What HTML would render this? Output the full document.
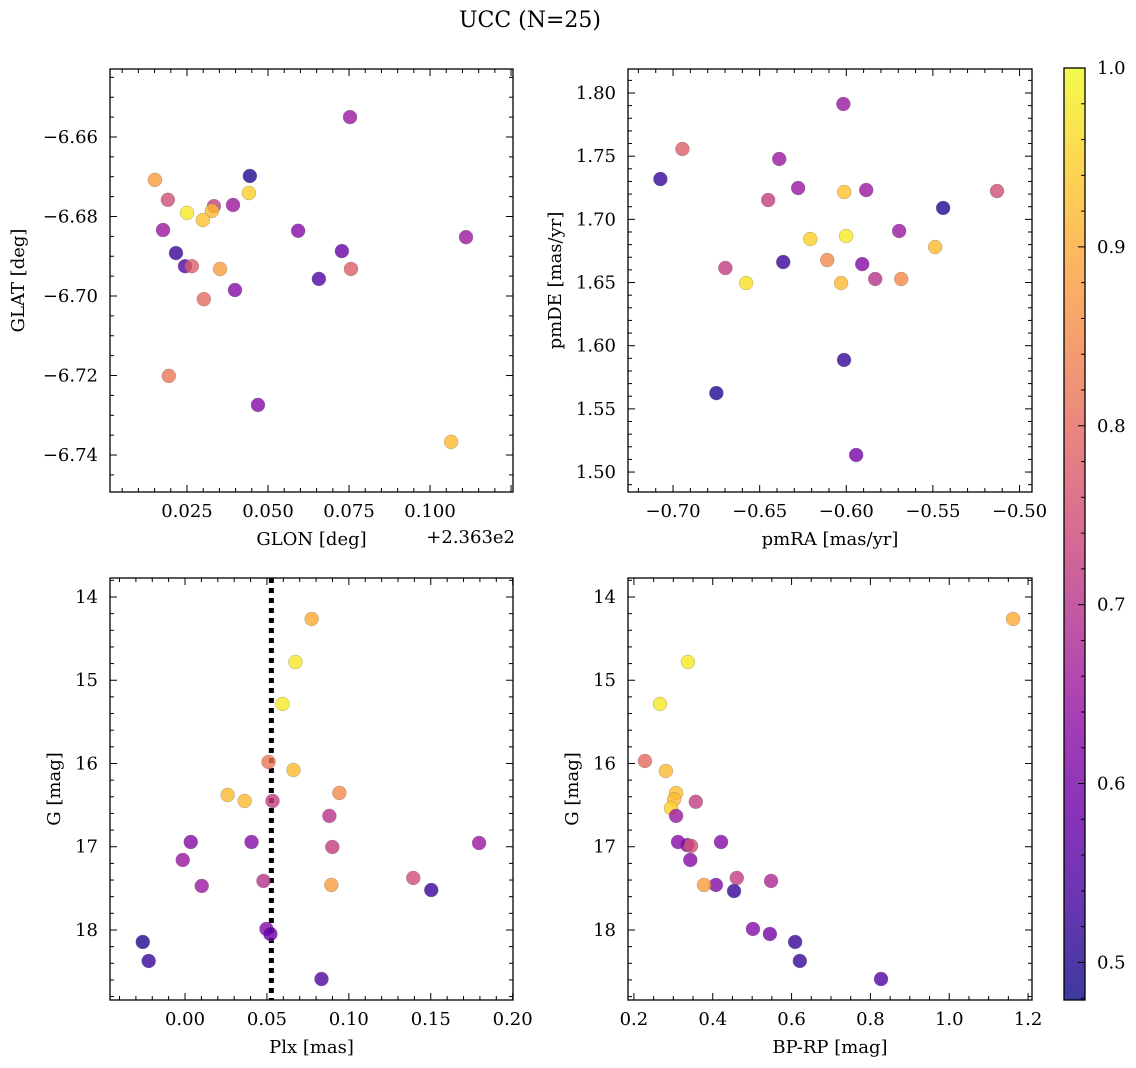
<!DOCTYPE html>
<html><head><meta charset="utf-8"><style>
html,body{margin:0;padding:0;background:#fff}
svg{display:block;font-family:"DejaVu Serif","Liberation Serif",serif}
</style></head><body>
<svg id="fig" width="1136" height="1068" viewBox="0 0 1136 1068" xmlns="http://www.w3.org/2000/svg">
<defs><linearGradient id="plasmaGrad" x1="0" y1="1" x2="0" y2="0"></linearGradient></defs>
<text x="530" y="27" font-size="22" text-anchor="middle">UCC (N=25)</text>
</svg>
<script>
// ---- data ----
const p1Glon = [0.0753,0.0444,0.0151,0.0441,0.0191,0.0333,0.0392,0.0327,0.025,0.0299,0.0176,0.0593,0.1111,0.0216,0.0728,0.0244,0.0265,0.0352,0.0756,0.0657,0.0398,0.0302,0.0194,0.0469,0.1065];
const p1Glat = [-6.655,-6.6698,-6.6708,-6.6741,-6.6758,-6.6774,-6.6771,-6.6786,-6.6791,-6.6809,-6.6834,-6.6836,-6.6852,-6.6892,-6.6887,-6.6925,-6.6925,-6.6932,-6.6932,-6.6957,-6.6985,-6.7008,-6.7201,-6.7274,-6.7367];
const p1Prob = [0.65,0.5,0.88,0.95,0.75,0.72,0.65,0.92,0.98,0.93,0.65,0.62,0.65,0.52,0.58,0.55,0.78,0.88,0.78,0.55,0.62,0.8,0.82,0.62,0.92];

const p2Pmra = [-0.6017,-0.6946,-0.7073,-0.6387,-0.6278,-0.6451,-0.6012,-0.5885,-0.513,-0.5441,-0.5695,-0.6208,-0.6001,-0.5487,-0.611,-0.5908,-0.6364,-0.6698,-0.5833,-0.5683,-0.603,-0.6578,-0.6013,-0.675,-0.5943];
const p2Pmde = [1.7913,1.7557,1.7319,1.7478,1.7248,1.7153,1.7216,1.7232,1.7224,1.709,1.6908,1.6844,1.6868,1.6781,1.6678,1.6646,1.6662,1.6615,1.6528,1.6528,1.6496,1.6496,1.5887,1.5625,1.5135];
const p2Prob = [0.65,0.78,0.52,0.65,0.65,0.72,0.93,0.65,0.75,0.5,0.65,0.95,0.98,0.92,0.85,0.62,0.52,0.72,0.7,0.85,0.92,0.97,0.52,0.5,0.6];

const p3Plx = [0.0773,0.0674,0.0595,0.051,0.0662,0.026,0.0364,0.0534,0.0942,0.0881,0.0035,0.0406,0.1795,0.0899,-0.0014,0.1393,0.0102,0.0479,0.0893,0.1503,0.0497,0.0521,-0.0258,-0.0222,0.0833];
const p3G = [14.264,14.781,15.285,15.982,16.078,16.378,16.45,16.45,16.354,16.63,16.943,16.943,16.955,17.003,17.159,17.375,17.471,17.411,17.459,17.52,17.988,18.048,18.144,18.372,18.589];
const p3Prob = [0.9,0.98,0.98,0.82,0.92,0.92,0.92,0.72,0.85,0.7,0.62,0.62,0.65,0.72,0.65,0.75,0.65,0.7,0.88,0.52,0.62,0.58,0.5,0.52,0.55];
const plxLine = [0.0527];

const p4Bprp = [1.162,0.337,0.266,0.228,0.281,0.307,0.302,0.294,0.357,0.307,0.421,0.312,0.335,0.345,0.343,0.461,0.548,0.408,0.378,0.454,0.502,0.545,0.609,0.621,0.827];
const p4G = [14.264,14.781,15.285,15.97,16.09,16.354,16.43,16.535,16.46,16.63,16.943,16.943,16.98,16.99,17.159,17.375,17.411,17.459,17.459,17.532,17.988,18.048,18.144,18.372,18.589];
const p4Prob = [0.9,0.98,0.98,0.8,0.92,0.93,0.92,0.95,0.72,0.65,0.62,0.62,0.62,0.75,0.62,0.72,0.68,0.62,0.88,0.52,0.62,0.6,0.52,0.52,0.55];

const cbTicks = [0.5,0.6,0.7,0.8,0.9,1.0];
const cbMin = 0.479, cbMax = 1.0;

// ---- helpers ----
const NS = "http://www.w3.org/2000/svg";
const svg = document.getElementById('fig');
function mk(tag, attrs, parent){ const e=document.createElementNS(NS,tag); for(const k in attrs) e.setAttribute(k,attrs[k]); (parent||svg).appendChild(e); return e; }
const stops=[[0,'#0d0887'],[0.1,'#41049d'],[0.2,'#6a00a8'],[0.3,'#8f0da4'],[0.4,'#b12a90'],[0.5,'#cc4778'],[0.6,'#e16462'],[0.7,'#f2844b'],[0.8,'#fca636'],[0.9,'#fcce25'],[1,'#f0f921']];
function hx(c){return [1,3,5].map(i=>parseInt(c.substr(i,2),16));}
function plasma(t){ t=Math.max(0,Math.min(1,t)); for(let i=0;i<stops.length-1;i++){ if(t<=stops[i+1][0]){ const f=(t-stops[i][0])/(stops[i+1][0]-stops[i][0]); const a=hx(stops[i][1]),b=hx(stops[i+1][1]); return 'rgb('+a.map((v,j)=>Math.round(v+(b[j]-v)*f)).join(',')+')'; } } return stops[10][1]; }
function cmap(v){ return plasma((v-cbMin)/(cbMax-cbMin)); }
function fmtMinus(s){ return s.replace('-','\u2212'); }
const FS = 18;

function panel(o){
  const g = mk('g',{});
  
  
  const sx = v => o.x0 + (v-o.xd[0])/(o.xd[1]-o.xd[0])*(o.x1-o.x0);
  const sy = v => o.y1 - (v-o.yd[0])/(o.yd[1]-o.yd[0])*(o.y1-o.y0);
  if(o.vline){ const l=mk('line',{x1:sx(o.vline[0]),x2:sx(o.vline[0]),y1:o.y0,y2:o.y1,stroke:'#000','stroke-width':5,'stroke-dasharray':'5 5'},g);   }
  for(let i=0;i<o.xs.length;i++){
    const c=mk('circle',{cx:sx(o.xs[i]),cy:sy(o.ys[i]),r:7,fill:cmap(o.cs[i]),'fill-opacity':0.8,stroke:'#777','stroke-width':0.5,'stroke-opacity':0.6},g);
    
    
  }
  const fr=mk('rect',{x:o.x0,y:o.y0,width:o.x1-o.x0,height:o.y1-o.y0,fill:'none',stroke:'#000','stroke-width':1.3},g);
   
  const eps=1e-9;
  for(let v=Math.ceil(o.xd[0]/o.xmin)*o.xmin; v<=o.xd[1]+eps; v+=o.xmin){
    const x=sx(v); const major=Math.abs(v/o.xmaj-Math.round(v/o.xmaj))<1e-6; const L=major?7:4;
    mk('line',{x1:x,x2:x,y1:o.y1,y2:o.y1-L,stroke:'#000','stroke-width':1},g);
    mk('line',{x1:x,x2:x,y1:o.y0,y2:o.y0+L,stroke:'#000','stroke-width':1},g);
  }
  o.xticks.forEach((v,i)=>{ const t=mk('text',{x:sx(v),y:o.y1+25,'font-size':FS,'text-anchor':'middle'},g); t.textContent=fmtMinus(o.xlabs[i]);   });
  for(let v=Math.ceil(o.yd[0]/o.ymin)*o.ymin; v<=o.yd[1]+eps; v+=o.ymin){
    const y=sy(v); const major=Math.abs(v/o.ymaj-Math.round(v/o.ymaj))<1e-6; const L=major?7:4;
    mk('line',{x1:o.x0,x2:o.x0+L,y1:y,y2:y,stroke:'#000','stroke-width':1},g);
    mk('line',{x1:o.x1,x2:o.x1-L,y1:y,y2:y,stroke:'#000','stroke-width':1},g);
  }
  o.yticks.forEach((v,i)=>{ const t=mk('text',{x:o.x0-12,y:sy(v)+6,'font-size':FS,'text-anchor':'end'},g); t.textContent=fmtMinus(o.ylabs[i]);   });
  const xl=mk('text',{x:(o.x0+o.x1)/2,y:o.y1+53,'font-size':FS,'text-anchor':'middle'},g); xl.textContent=o.xlabel;  
  const yx=o.ylx, yy=(o.y0+o.y1)/2;
  const yl=mk('text',{x:yx,y:yy,'font-size':FS,'text-anchor':'middle',transform:'rotate(-90 '+yx+' '+yy+')'},g); yl.textContent=o.ylabel;  
  if(o.offset){ const t=mk('text',{x:o.x1+2,y:o.y1+51,'font-size':FS,'text-anchor':'end'},g); t.textContent=o.offset;   }
}

panel({name:'glon-glat-panel',x0:110,x1:513,y0:69,y1:492,xd:[0.00124,0.1256],yd:[-6.7493,-6.6429],
  xs:p1Glon,ys:p1Glat,cs:p1Prob,xmaj:0.025,xmin:0.005,ymaj:0.02,ymin:0.005,
  xticks:[0.025,0.05,0.075,0.1],xlabs:['0.025','0.050','0.075','0.100'],
  yticks:[-6.74,-6.72,-6.70,-6.68,-6.66],ylabs:['-6.74','-6.72','-6.70','-6.68','-6.66'],
  xlabel:'GLON [deg]',ylabel:'GLAT [deg]',ylx:24,offset:'+2.363e2'});
panel({name:'pmra-pmde-panel',x0:628,x1:1032,y0:69,y1:492,xd:[-0.726,-0.4928],yd:[1.4842,1.819],
  xs:p2Pmra,ys:p2Pmde,cs:p2Prob,xmaj:0.05,xmin:0.01,ymaj:0.05,ymin:0.01,
  xticks:[-0.70,-0.65,-0.60,-0.55,-0.50],xlabs:['-0.70','-0.65','-0.60','-0.55','-0.50'],
  yticks:[1.50,1.55,1.60,1.65,1.70,1.75,1.80],ylabs:['1.50','1.55','1.60','1.65','1.70','1.75','1.80'],
  xlabel:'pmRA [mas/yr]',ylabel:'pmDE [mas/yr]',ylx:561});
panel({name:'plx-g-panel',x0:110,x1:513,y0:578,y1:1000,xd:[-0.0458,0.2002],yd:[-18.841,-13.772],
  xs:p3Plx,ys:p3G.map(v=>-v),cs:p3Prob,xmaj:0.05,xmin:0.01,ymaj:1,ymin:0.2,vline:plxLine,
  xticks:[0,0.05,0.1,0.15,0.2],xlabs:['0.00','0.05','0.10','0.15','0.20'],
  yticks:[-14,-15,-16,-17,-18],ylabs:['14','15','16','17','18'],
  xlabel:'Plx [mas]',ylabel:'G [mag]',ylx:60});
panel({name:'bprp-g-panel',x0:628,x1:1032,y0:578,y1:1000,xd:[0.185,1.210],yd:[-18.841,-13.772],
  xs:p4Bprp,ys:p4G.map(v=>-v),cs:p4Prob,xmaj:0.2,xmin:0.05,ymaj:1,ymin:0.2,
  xticks:[0.2,0.4,0.6,0.8,1.0,1.2],xlabs:['0.2','0.4','0.6','0.8','1.0','1.2'],
  yticks:[-14,-15,-16,-17,-18],ylabs:['14','15','16','17','18'],
  xlabel:'BP-RP [mag]',ylabel:'G [mag]',ylx:578});

const grad=document.getElementById('plasmaGrad');
for(let i=0;i<=20;i++){ const v=cbMin+(cbMax-cbMin)*i/20; mk('stop',{offset:(i/20),'stop-color':cmap(v),'stop-opacity':0.8},grad); }
const cbx0=1064,cbx1=1085,cby0=68,cby1=1000;
const cbY=v=>cby1-(v-cbMin)/(cbMax-cbMin)*(cby1-cby0);
const cb=mk('g',{});


mk('rect',{x:cbx0,y:cby0,width:cbx1-cbx0,height:cby1-cby0,fill:'url(#plasmaGrad)',stroke:'#000','stroke-width':1.3},cb);
for(let k=Math.ceil(cbMin*50);k<=50;k++){ const v=k/50; const maj=(k%5===0); mk('line',{x1:cbx1,x2:cbx1-(maj?7:4),y1:cbY(v),y2:cbY(v),stroke:'#000','stroke-width':1},cb); }
cbTicks.forEach(v=>{ const t=mk('text',{x:cbx1+12,y:cbY(v)+6,'font-size':FS},cb); t.textContent=v.toFixed(1);   });
</script>
</body></html>
